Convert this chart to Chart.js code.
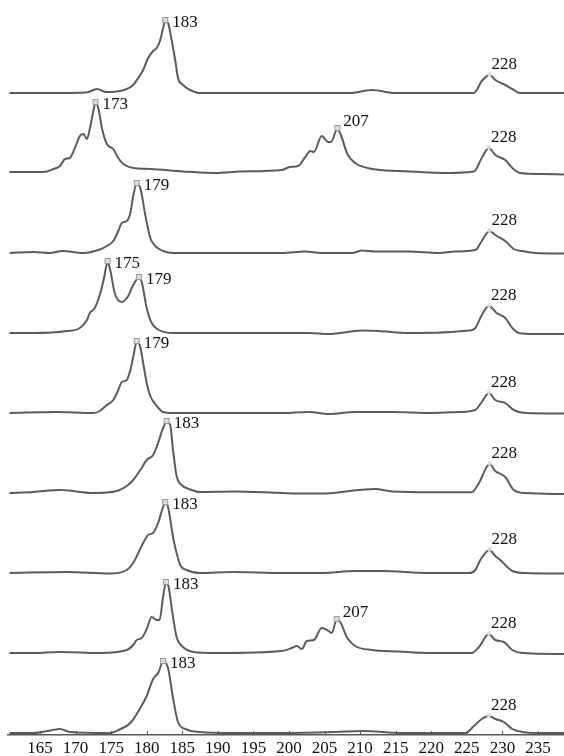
<!DOCTYPE html>
<html>
<head>
<meta charset="utf-8">
<script src="https://cdn.jsdelivr.net/npm/chart.js@4/dist/chart.umd.min.js"></script>
<style>
  html, body { margin: 0; padding: 0; background: #ffffff; }
  #wrap { width: 564px; height: 756px; }
</style>
</head>
<body>
<div id="wrap"><canvas id="c" width="564" height="756"></canvas></div>
<script>
// ---- data (x = size, y = signal above each trace's own baseline) ----
const tickLabels = [165,170,175,180,185,190,195,200,205,210,215,220,225,230,235];

const trace1 = [[160.7,0],[166.4,0],[171.5,0.5],[173.0,4],[174.3,1],[175.8,1.5],[177.2,4],[178.1,8],[178.8,15],[179.5,23],[180.2,35],[180.9,42],[181.4,45],[181.9,53],[182.3,65],[182.6,72],[183.0,70],[183.5,53],[184.0,33],[184.4,15],[185.1,8],[186.1,3],[187.5,0],[208.6,0],[211.7,3],[214.9,0],[226.0,0],[227.1,12],[228.2,18],[229.0,13],[230.4,8],[231.4,4],[232.5,0],[238.7,0]];
const trace2 = [[160.7,1],[165.5,1],[166.9,4],[167.8,7],[168.5,14],[169.2,15],[169.9,25],[170.6,37],[171.1,39],[171.6,34],[172.0,44],[172.5,62],[172.8,70],[173.2,65],[173.7,45],[174.4,29],[175.3,24],[176.0,15],[176.7,9],[178.1,5],[180.5,4],[185.1,1.5],[189.8,0],[193.1,1.5],[199.0,3],[200.1,6],[201.3,7],[202.3,16],[203.0,22],[203.5,21],[204.6,37],[205.5,31],[205.9,31],[206.8,44],[207.3,38],[208.2,19],[209.3,10],[211.7,4],[215.6,2],[221.5,0],[226.0,1.5],[227.1,15],[228.1,25],[229.0,18],[230.4,13],[231.4,5],[232.5,0],[235.6,-1],[238.7,-1.5]];
const trace3 = [[160.7,0],[164.1,1],[166.4,0],[168.1,2],[171.1,0],[173.4,3.5],[174.4,7],[175.3,12],[176.0,22],[176.5,30],[177.2,32],[177.7,40],[178.1,57],[178.6,69],[179.1,65],[179.8,38],[180.5,15],[181.2,7],[182.3,2],[183.7,0],[199.0,0],[202.3,1.5],[204.6,0],[208.9,0],[210.3,2.5],[212.1,1.5],[216.8,1.5],[221.1,0],[223.4,1.5],[226.2,3],[227.1,12],[228.2,22],[229.0,18],[230.4,12],[231.6,4],[232.8,2],[234.6,0],[238.7,-0.5]];
const trace4 = [[160.7,0],[164.1,0],[168.8,2],[170.6,5],[171.6,13],[172.0,20],[172.7,25],[173.4,38],[174.0,55],[174.5,71],[174.9,62],[175.5,40],[176.5,31],[177.4,37],[178.1,48],[178.9,55],[179.3,51],[180.0,25],[180.7,10],[181.6,3.5],[183.7,0],[199.0,0],[202.8,0],[205.6,-1],[210.3,2.5],[212.6,2],[216.8,0],[225.3,2.5],[226.2,5],[227.1,18],[228.1,27],[229.2,20],[230.4,15],[231.4,5],[232.3,0],[234.6,-1],[238.7,-1]];
const trace5 = [[160.7,0],[167.3,1],[172.5,0],[173.4,2],[174.4,8],[175.3,13],[176.0,23],[176.5,31],[177.2,33],[177.7,43],[178.1,56],[178.6,71],[179.1,66],[179.5,50],[180.0,30],[180.5,17],[181.2,9],[182.3,1],[183.7,0],[199.0,0],[202.8,1],[205.6,-1],[209.3,1],[214.5,1],[220.1,0],[223.9,1],[226.2,3],[227.1,11],[228.1,20],[229.0,13],[230.4,10],[231.6,3],[233.2,0],[238.7,-0.5]];
const trace6 = [[160.7,0],[164.1,1],[167.8,3],[172.5,0],[175.8,2],[177.2,7],[178.1,13],[179.1,23],[180.0,33],[180.9,38],[181.6,50],[182.3,65],[182.8,71],[183.3,68],[183.7,43],[184.2,17],[184.9,8],[186.1,3.5],[187.5,1],[192.2,1.5],[199.0,0],[201.8,-0.5],[205.1,-0.5],[209.8,3],[212.1,4],[214.5,1.5],[220.1,0.7],[225.7,0.7],[226.7,10],[228.2,29],[229.0,22],[230.4,16],[231.6,3],[233.2,0],[238.7,-1]];
const trace7 = [[160.7,0],[168.8,1],[174.8,-0.5],[177.2,3],[178.1,10],[179.5,30],[180.2,38],[180.9,40],[181.6,50],[182.3,66],[182.6,70],[183.0,66],[183.7,36],[184.2,20],[184.7,8],[185.6,3],[187.5,0],[192.2,1],[199.0,0],[204.6,0],[209.3,2],[213.1,2],[219.6,0],[225.3,0],[226.2,3],[226.9,13],[228.2,23],[229.0,17],[229.7,13],[231.4,2],[233.2,0],[238.7,-0.5]];
const trace8 = [[160.7,0],[164.1,0],[167.8,1],[173.4,0],[177.2,3],[178.1,8],[178.6,13],[179.3,15],[180.0,24],[180.7,36],[181.4,33],[181.8,33],[182.3,56],[182.7,70],[183.0,68],[183.7,36],[184.2,16],[185.1,6],[186.6,1],[189.8,0],[199.0,2],[200.4,5],[201.1,7],[201.8,4],[202.5,12],[203.5,13],[204.6,25],[205.6,22],[206.0,20],[206.7,33],[207.2,31],[208.2,15],[209.3,7],[211.7,3],[215.4,1.5],[219.6,0],[225.7,0],[226.7,6],[228.1,19],[229.0,13],[230.2,11],[231.4,3],[232.8,0],[238.7,-1]];
const trace9 = [[160.7,0],[164.1,0],[166.4,2.5],[167.8,4],[169.2,1],[174.8,0],[176.2,3.5],[177.7,10],[179.1,25],[180.0,37],[180.9,54],[181.6,60],[182.3,71],[183.0,65],[183.7,35],[184.4,11],[185.6,3.5],[187.5,1],[192.2,0],[199.0,0],[206.5,1],[210.3,2],[215.9,0],[224.8,0],[226.0,7],[227.1,14],[228.1,17],[229.0,14],[230.2,11],[231.4,4],[232.8,1],[234.6,0],[238.7,0]];

const traces = [trace1, trace2, trace3, trace4, trace5, trace6, trace7, trace8, trace9];

// labelled peaks: [trace number, x of the peak, label]
const peakLabels = [
  [1,182.6,'183'],[1,228.2,'228'],
  [2,172.8,'173'],[2,206.8,'207'],[2,228.1,'228'],
  [3,178.6,'179'],[3,228.2,'228'],
  [4,174.5,'175'],[4,178.9,'179'],[4,228.1,'228'],
  [5,178.6,'179'],[5,228.1,'228'],
  [6,182.8,'183'],[6,228.2,'228'],
  [7,182.6,'183'],[7,228.2,'228'],
  [8,182.7,'183'],[8,206.7,'207'],[8,228.1,'228'],
  [9,182.3,'183'],[9,228.1,'228']
];

// ---- layout ----
const SPACING = 80;          // vertical gap between stacked traces (y units)
const offsetOf = i => (traces.length - 1 - i) * SPACING + 2;

const datasets = traces.map((t, i) => ({
  label: 'trace ' + (i + 1),
  data: t.map(p => ({ x: p[0], y: p[1] + offsetOf(i) })),
  borderColor: '#5c5c5c',
  borderWidth: 2,
  pointRadius: 0,
  fill: false,
  cubicInterpolationMode: 'monotone'
}));

const SERIF = '"Liberation Serif", "Times New Roman", serif';

const peakPlugin = {
  id: 'peaks',
  afterDatasetsDraw(chart) {
    const { ctx, scales: { x, y } } = chart;
    ctx.save();
    ctx.font = '17px ' + SERIF;
    ctx.textAlign = 'left';
    ctx.textBaseline = 'middle';
    peakLabels.forEach(([tn, px, txt]) => {
      const t = traces[tn - 1];
      const pt = t.find(p => Math.abs(p[0] - px) < 1e-6);
      const h = pt ? pt[1] : 0;
      const X = x.getPixelForValue(px);
      const Y = y.getPixelForValue(h + offsetOf(tn - 1));
      if (txt === '228') {
        ctx.fillStyle = 'rgba(225,225,225,0.9)';
        ctx.fillRect(X - 2, Y - 3, 4, 4);
        ctx.fillStyle = '#111';
        ctx.fillText(txt, X + 2, Y - 10);
      } else {
        ctx.fillStyle = '#dcdcdc';
        ctx.fillRect(X - 2.5, Y - 3.5, 5, 5);
        ctx.strokeStyle = '#9a9a9a';
        ctx.lineWidth = 1;
        ctx.strokeRect(X - 2.5, Y - 3.5, 5, 5);
        ctx.fillStyle = '#111';
        if (txt === '207') ctx.fillText(txt, X + 6, Y - 7);
        else ctx.fillText(txt, X + 7, Y + 2);
      }
    });
    // small tick marks pointing up from the axis line
    ctx.strokeStyle = '#555';
    ctx.lineWidth = 1;
    tickLabels.forEach(v => {
      const X = Math.round(x.getPixelForValue(v)) + 0.5;
      ctx.beginPath();
      ctx.moveTo(X, y.bottom);
      ctx.lineTo(X, y.bottom - 4);
      ctx.stroke();
    });
    ctx.restore();
  }
};

const bgPlugin = {
  id: 'bg',
  beforeDraw(chart) {
    const c = chart.ctx;
    c.save();
    c.fillStyle = '#ffffff';
    c.fillRect(0, 0, chart.width, chart.height);
    c.restore();
  }
};

new Chart(document.getElementById('c'), {
  type: 'line',
  data: { datasets },
  options: {
    responsive: false,
    animation: false,
    events: [],
    layout: { padding: { top: 5, left: 8, right: 0, bottom: 0 } },
    plugins: { legend: { display: false }, tooltip: { enabled: false } },
    scales: {
      x: {
        type: 'linear',
        min: 160.5,
        max: 238.66,
        afterBuildTicks: s => { s.ticks = tickLabels.map(v => ({ value: v })); },
        afterFit: s => { s.height = 21; },
        grid: { display: false },
        border: { display: true, color: '#555', width: 1.5 },
        ticks: {
          autoSkip: false,
          maxRotation: 0,
          padding: -5,
          color: '#111',
          font: { family: SERIF, size: 17 },
          callback: v => String(v)
        }
      },
      y: {
        type: 'linear',
        display: false,
        min: 0,
        max: 730
      }
    }
  },
  plugins: [bgPlugin, peakPlugin]
});
</script>
</body>
</html>
